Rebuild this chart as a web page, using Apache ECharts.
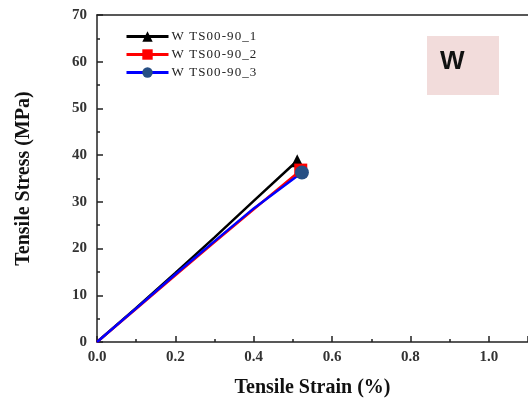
<!DOCTYPE html>
<html>
<head>
<meta charset="utf-8">
<script src="https://cdn.jsdelivr.net/npm/echarts@6/dist/echarts.min.js"></script>
<style>
  html, body { margin: 0; padding: 0; background: #fff; }
  #main { width: 528px; height: 412px; }
</style>
</head>
<body>
<div id="main"></div>
<script>
var seriesNames = ['W TS00-90_1', 'W TS00-90_2', 'W TS00-90_3'];
var strain1 = [0, 0.1, 0.2, 0.3, 0.4, 0.511];
var stress1 = [0, 7.3, 14.8, 22.4, 30.2, 38.8];
var strain2 = [0, 0.1, 0.2, 0.3, 0.4, 0.52];
var stress2 = [0, 7.1, 14.3, 21.4, 28.4, 36.8];
var strain3 = [0, 0.1, 0.2, 0.3, 0.4, 0.523];
var stress3 = [0, 7.2, 14.5, 21.6, 28.6, 36.3];

var chartDom = document.getElementById('main');
var myChart = echarts.init(chartDom);

function pairs(xs, ys) {
    return xs.map(function (x, i) { return [x, ys[i]]; });
}

function makeSeries(name, xs, ys, lineColor, markColor, symbol, size) {
    var last = xs.length - 1;
    return {
        name: name,
        type: 'line',
        data: pairs(xs, ys),
        symbol: symbol,
        symbolSize: function (v, p) { return p.dataIndex === last ? size : 0; },
        showAllSymbol: true,
        lineStyle: { color: lineColor, width: 2.5 },
        itemStyle: { color: markColor },
        animation: false
    };
}

var tickFont = { fontFamily: 'Liberation Serif', fontWeight: 'bold', fontSize: 15, color: '#333' };
var nameFont = { fontFamily: 'Liberation Serif', fontWeight: 'bold', fontSize: 20, color: '#111' };

var option = {
    animation: false,
    grid: { left: 97, top: 15, width: 434.5, height: 327 },
    legend: {
        orient: 'vertical',
        left: 120, top: 25,
        itemWidth: 42, itemHeight: 13, itemGap: 5,
        lineStyle: { width: 3 },
        textStyle: { fontFamily: 'Liberation Serif', fontSize: 13, color: '#222', padding: [0, 0, 0, -2] },
        formatter: function (n) { return n.split('').join('\u200a'); },
        data: seriesNames
    },
    xAxis: [{
        type: 'value', min: 0, max: 1.1, interval: 0.2,
        name: 'Tensile Strain (%)', nameLocation: 'middle', nameGap: 36,
        nameTextStyle: nameFont,
        axisLine: { lineStyle: { color: '#222', width: 1.5 } },
        axisTick: { inside: true, length: 6, lineStyle: { color: '#222', width: 1.5 } },
        minorTick: { show: true, splitNumber: 2, length: 3, lineStyle: { color: '#222', width: 1.5 } },
        splitLine: { show: false },
        axisLabel: Object.assign({ margin: 8, showMaxLabel: false, formatter: function (v) { return v.toFixed(1); } }, tickFont)
    }, {
        type: 'value', position: 'top', min: 0, max: 1.1,
        axisLine: { show: true, lineStyle: { color: '#222', width: 1.5 } },
        axisTick: { show: false }, axisLabel: { show: false }, splitLine: { show: false }
    }],
    yAxis: {
        type: 'value', min: 0, max: 70, interval: 10,
        name: 'Tensile Stress (MPa)', nameLocation: 'middle', nameGap: 63,
        nameTextStyle: nameFont,
        axisLine: { lineStyle: { color: '#222', width: 1.5 } },
        axisTick: { inside: true, length: 6, lineStyle: { color: '#222', width: 1.5 } },
        minorTick: { show: true, splitNumber: 2, length: 3, lineStyle: { color: '#222', width: 1.5 } },
        splitLine: { show: false },
        axisLabel: Object.assign({ margin: 10 }, tickFont)
    },
    graphic: [
        {
            type: 'rect', left: 427, top: 36,
            shape: { width: 72, height: 59 },
            style: { fill: '#f2dcdb' }
        },
        {
            type: 'text', left: 440, top: 49,
            style: { text: 'W', font: 'bold 26px "Liberation Sans"', fill: '#111' }
        }
    ],
    series: [
        makeSeries(seriesNames[0], strain1, stress1, '#000000', '#000000', 'triangle', 13),
        makeSeries(seriesNames[1], strain2, stress2, '#ff0000', '#ff0000', 'rect', 13),
        makeSeries(seriesNames[2], strain3, stress3, '#0000ff', '#264f84', 'circle', 14)
    ]
};

myChart.setOption(option);
</script>
</body>
</html>
